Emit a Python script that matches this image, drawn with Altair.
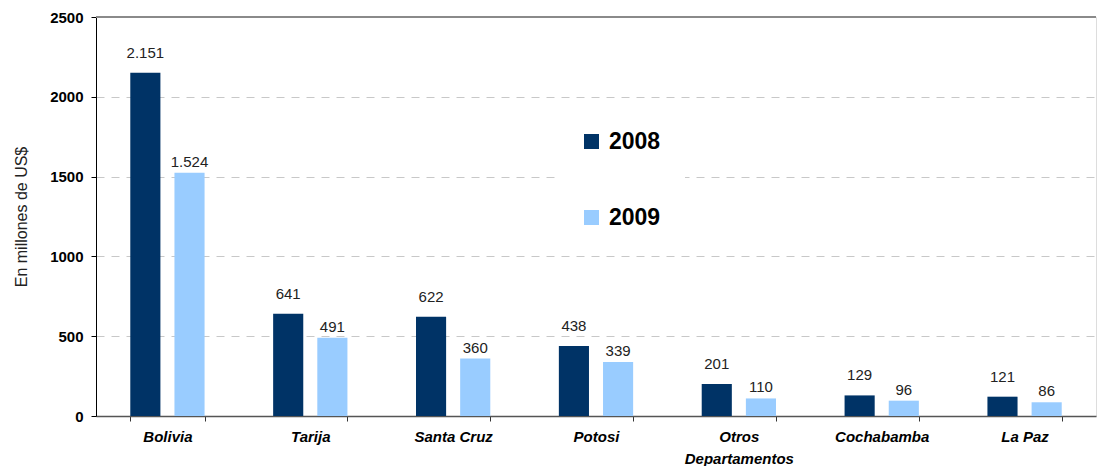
import altair as alt
import pandas as pd

departamentos = ["Bolivia", "Tarija", "Santa Cruz", "Potosi", "Otros\nDepartamentos", "Cochabamba", "La Paz"]
v2008 = [2151, 641, 622, 438, 201, 129, 121]
v2009 = [1524, 491, 360, 339, 110, 96, 86]
lab2008 = ["2.151", "641", "622", "438", "201", "129", "121"]
lab2009 = ["1.524", "491", "360", "339", "110", "96", "86"]
years = ["2008", "2009"]
colors = ["#003366", "#99CCFF"]

rows = []
for i, d in enumerate(departamentos):
    rows.append({"dep": d, "year": "2008", "value": v2008[i], "label": lab2008[i]})
    rows.append({"dep": d, "year": "2009", "value": v2009[i], "label": lab2009[i]})
df = pd.DataFrame(rows)

FONT = "Liberation Sans"

x = alt.X("dep:N", sort=departamentos, title=None,
          scale=alt.Scale(paddingInner=0.48, paddingOuter=0.24),
          axis=alt.Axis(labelAngle=0, labelFont=FONT, labelFontSize=15, labelFontWeight="bold",
                        labelFontStyle="italic", labelColor="#000", labelPadding=8,
                        labelExpr="split(datum.label, '\\n')", labelLineHeight=22,
                        tickBand="extent", tickSize=5, tickColor="#333", domainColor="#555",
                        domainWidth=1.5, grid=False))
xo = alt.XOffset("year:N", scale=alt.Scale(paddingInner=0.318, paddingOuter=0))
y = alt.Y("value:Q", title="En millones de US$",
          scale=alt.Scale(domain=[0, 2500], nice=False),
          axis=alt.Axis(values=[0, 500, 1000, 1500, 2000, 2500], format="d",
                        labelFont=FONT, labelFontSize=15, labelFontWeight="bold", labelColor="#000",
                        labelPadding=8, tickSize=5, tickColor="#000", domainColor="#000",
                        titleFont=FONT, titleFontSize=16, titleFontWeight="normal", titleColor="#222",
                        titlePadding=20, gridDash=[8, 7], gridColor="#c8c8c8"))

bars = alt.Chart(df).mark_bar().encode(
    x=x, xOffset=xo, y=y,
    color=alt.Color("year:N", scale=alt.Scale(domain=years, range=colors),
                    legend=alt.Legend(orient="none", legendX=460, legendY=89, title=None,
                                      symbolType="square", symbolSize=225, symbolStrokeWidth=0,
                                      labelFont=FONT, labelFontSize=23, labelFontWeight="bold",
                                      labelColor="#000", rowPadding=52, labelOffset=6,
                                      fillColor="white", padding=24)),
)

t8 = alt.Chart(df).transform_filter("datum.year == '2008'").mark_text(
    baseline="bottom", dy=-12, font=FONT, fontSize=15, color="#222"
).encode(x=x, xOffset=xo, y=y, text="label:N")
t9 = alt.Chart(df).transform_filter("datum.year == '2009'").mark_text(
    baseline="bottom", dy=-3, font=FONT, fontSize=15, color="#222"
).encode(x=x, xOffset=xo, y=y, text="label:N")

top = alt.Chart(pd.DataFrame({"v": [2500]})).mark_rule(color="#8a8a8a", strokeWidth=2).encode(
    y=alt.Y("v:Q", scale=alt.Scale(domain=[0, 2500], nice=False)))

chart = alt.layer(bars, top, t8, t9).properties(
    width=1000, height=399, padding={"left": 5, "top": 2, "right": 2, "bottom": 0}
).configure_view(stroke=None).configure(background="white")

chart.save("out.html", embed_options={"renderer": "svg", "actions": False})
